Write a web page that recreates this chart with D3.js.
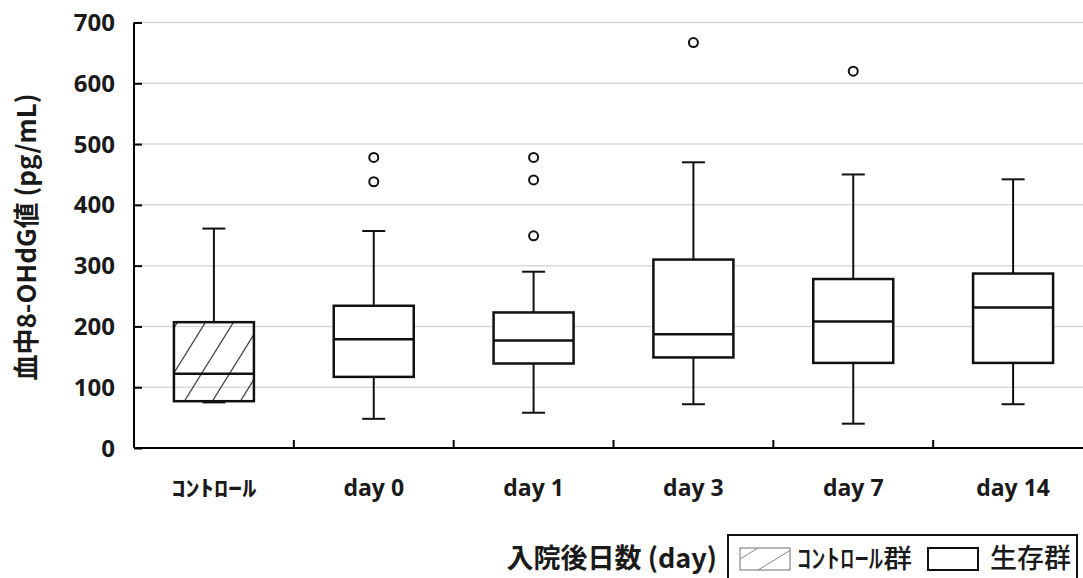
<!DOCTYPE html>
<html>
<head>
<meta charset="utf-8">
<script src="https://cdn.jsdelivr.net/npm/d3@7"></script>
<style>
  body { margin: 0; background: #fff; }
  svg { display: block; }
</style>
</head>
<body>
<div id="chart"></div>
<script>
// values
const categories = ["ｺﾝﾄﾛｰﾙ", "day 0", "day 1", "day 3", "day 7", "day 14"];
const whiskerLow = [75, 48, 58, 72, 40, 72];
const q1 = [77, 117, 139, 149, 140, 140];
const median = [122, 179, 177, 187, 208, 231];
const q3 = [207, 234, 223, 310, 278, 287];
const whiskerHigh = [361, 357, 290, 470, 450, 442];
const outliers = [[], [478, 438], [478, 441, 349], [667], [620], []];
const yTicks = [0, 100, 200, 300, 400, 500, 600, 700];

const W = 1083, H = 578;
const AXIS_X = 134, AXIS_Y = 448, TOP_Y = 22.5;
const JP = "'Noto Sans CJK JP', 'Noto Sans', sans-serif";
const LAT = "'Open Sans', 'Noto Sans', sans-serif";

const svg = d3.select("#chart").append("svg")
  .attr("width", W)
  .attr("height", H);

const defs = svg.append("defs");
defs.append("pattern")
    .attr("id", "hatch")
    .attr("patternUnits", "userSpaceOnUse")
    .attr("width", 28)
    .attr("height", 45)
    .attr("x", 0)
    .attr("y", 0)
  .append("path")
    .attr("d", "M-14,45 L14,0 M14,45 L42,0")
    .attr("stroke", "#444")
    .attr("stroke-width", 1.3)
    .attr("fill", "none");

defs.append("pattern")
    .attr("id", "hatchLegend")
    .attr("patternUnits", "userSpaceOnUse")
    .attr("width", 36)
    .attr("height", 22)
    .attr("x", 740)
    .attr("y", 548)
  .append("path")
    .attr("d", "M-18,22 L18,0 M18,22 L54,0")
    .attr("stroke", "#888")
    .attr("stroke-width", 1)
    .attr("fill", "none");

const y = d3.scaleLinear()
  .domain([0, 700])
  .range([AXIS_Y, TOP_Y]);

const x = d3.scaleBand()
  .domain(categories)
  .range([AXIS_X, 1093]);

// gridlines
svg.append("g")
  .selectAll("line")
  .data(yTicks.filter(d => d > 0))
  .join("line")
    .attr("x1", AXIS_X)
    .attr("x2", W)
    .attr("y1", d => y(d))
    .attr("y2", d => y(d))
    .attr("stroke", "#d9d9d9")
    .attr("stroke-width", 1.5);

// y axis
const yAxis = svg.append("g")
  .attr("transform", `translate(${AXIS_X},0)`)
  .call(d3.axisRight(y).tickValues(yTicks).tickSize(8).tickFormat(""));
yAxis.select(".domain").attr("d", `M0,${TOP_Y}V${AXIS_Y}`);
yAxis.selectAll("line, path").attr("stroke", "#000").attr("stroke-width", 2);

svg.append("g")
  .selectAll("text")
  .data(yTicks)
  .join("text")
    .attr("x", 115)
    .attr("y", d => y(d))
    .attr("dy", "0.36em")
    .attr("text-anchor", "end")
    .attr("font-family", LAT)
    .attr("font-weight", "bold")
    .attr("font-size", 24)
    .attr("fill", "#1a1a1a")
    .text(d => d);

// x axis
const xAxis = svg.append("g")
  .attr("transform", `translate(0,${AXIS_Y})`)
  .call(d3.axisTop(x).tickSize(0).tickFormat(""));
xAxis.select(".domain").attr("d", `M${AXIS_X},0H${W}`)
  .attr("stroke", "#000").attr("stroke-width", 2);
xAxis.selectAll(".tick").remove();

svg.append("g")
  .selectAll("line")
  .data(categories.slice(1))
  .join("line")
    .attr("x1", d => x(d))
    .attr("x2", d => x(d))
    .attr("y1", AXIS_Y)
    .attr("y2", AXIS_Y - 8)
    .attr("stroke", "#000")
    .attr("stroke-width", 2);

svg.append("g")
  .selectAll("text")
  .data(categories)
  .join("text")
    .attr("x", d => x(d) + x.bandwidth() / 2)
    .attr("y", 496)
    .attr("text-anchor", "middle")
    .attr("font-family", (d, i) => i === 0 ? JP : LAT)
    .attr("font-weight", "bold")
    .attr("font-size", (d, i) => i === 0 ? 22 : 23)
    .attr("fill", "#1a1a1a")
    .each(function (d, i) {
      if (i === 0) d3.select(this).attr("textLength", 85).attr("lengthAdjust", "spacingAndGlyphs");
    })
    .text(d => d);

// boxes
const boxW = 80, capW = 23;
const cx = d => x(d) + x.bandwidth() / 2;

const boxes = svg.append("g")
  .selectAll("g")
  .data(categories)
  .join("g");

boxes.append("line")
  .attr("x1", d => cx(d)).attr("x2", d => cx(d))
  .attr("y1", (d, i) => y(whiskerHigh[i]))
  .attr("y2", (d, i) => y(q3[i]))
  .attr("stroke", "#111").attr("stroke-width", 2);

boxes.append("line")
  .attr("x1", d => cx(d)).attr("x2", d => cx(d))
  .attr("y1", (d, i) => y(q1[i]))
  .attr("y2", (d, i) => y(whiskerLow[i]))
  .attr("stroke", "#111").attr("stroke-width", 2);

boxes.append("line")
  .attr("x1", d => cx(d) - capW / 2).attr("x2", d => cx(d) + capW / 2)
  .attr("y1", (d, i) => y(whiskerHigh[i]))
  .attr("y2", (d, i) => y(whiskerHigh[i]))
  .attr("stroke", "#111").attr("stroke-width", 2);

boxes.append("line")
  .attr("x1", d => cx(d) - capW / 2).attr("x2", d => cx(d) + capW / 2)
  .attr("y1", (d, i) => y(whiskerLow[i]))
  .attr("y2", (d, i) => y(whiskerLow[i]))
  .attr("stroke", "#111").attr("stroke-width", 2);

boxes.append("rect")
  .attr("x", d => cx(d) - boxW / 2)
  .attr("width", boxW)
  .attr("y", (d, i) => y(q3[i]))
  .attr("height", (d, i) => y(q1[i]) - y(q3[i]))
  .attr("fill", (d, i) => i === 0 ? "url(#hatch)" : "#fff")
  .attr("stroke", "#111")
  .attr("stroke-width", 2.5);

boxes.append("line")
  .attr("x1", d => cx(d) - boxW / 2).attr("x2", d => cx(d) + boxW / 2)
  .attr("y1", (d, i) => y(median[i]))
  .attr("y2", (d, i) => y(median[i]))
  .attr("stroke", "#111").attr("stroke-width", 2.5);

boxes.selectAll("circle")
  .data((d, i) => outliers[i].map(v => ({ cat: d, v })))
  .join("circle")
    .attr("cx", o => cx(o.cat))
    .attr("cy", o => y(o.v))
    .attr("r", 4.5)
    .attr("fill", "#fff")
    .attr("stroke", "#111")
    .attr("stroke-width", 2);

// y title
svg.append("text")
  .attr("transform", "translate(27,237) rotate(-90)")
  .attr("text-anchor", "middle")
  .attr("dy", "0.35em")
  .attr("font-family", JP)
  .attr("font-weight", "bold")
  .attr("font-size", 26)
  .attr("fill", "#1a1a1a")
  .text("血中8-OHdG値 (pg/mL)");

// x title + legend
svg.append("text")
  .attr("x", 717)
  .attr("y", 568)
  .attr("text-anchor", "end")
  .attr("font-family", JP)
  .attr("font-weight", "bold")
  .attr("font-size", 27)
  .attr("fill", "#1a1a1a")
  .text("入院後日数 (day)");

svg.append("rect")
  .attr("x", 728).attr("y", 535)
  .attr("width", 349).attr("height", 70)
  .attr("fill", "none")
  .attr("stroke", "#111")
  .attr("stroke-width", 2);

svg.append("rect")
  .attr("x", 740).attr("y", 548)
  .attr("width", 50).attr("height", 22)
  .attr("fill", "url(#hatchLegend)")
  .attr("stroke", "#888")
  .attr("stroke-width", 1.2);

svg.append("text")
  .attr("x", 797).attr("y", 568)
  .attr("font-family", JP)
  .attr("font-weight", 500)
  .attr("font-size", 26)
  .attr("fill", "#1a1a1a")
  .attr("textLength", 115)
  .attr("lengthAdjust", "spacingAndGlyphs")
  .text("ｺﾝﾄﾛｰﾙ群");

svg.append("rect")
  .attr("x", 928).attr("y", 548)
  .attr("width", 50).attr("height", 22)
  .attr("fill", "#fff")
  .attr("stroke", "#111")
  .attr("stroke-width", 2);

svg.append("text")
  .attr("x", 990).attr("y", 568)
  .attr("font-family", JP)
  .attr("font-weight", 500)
  .attr("font-size", 27)
  .attr("fill", "#1a1a1a")
  .text("生存群");
</script>
</body>
</html>
